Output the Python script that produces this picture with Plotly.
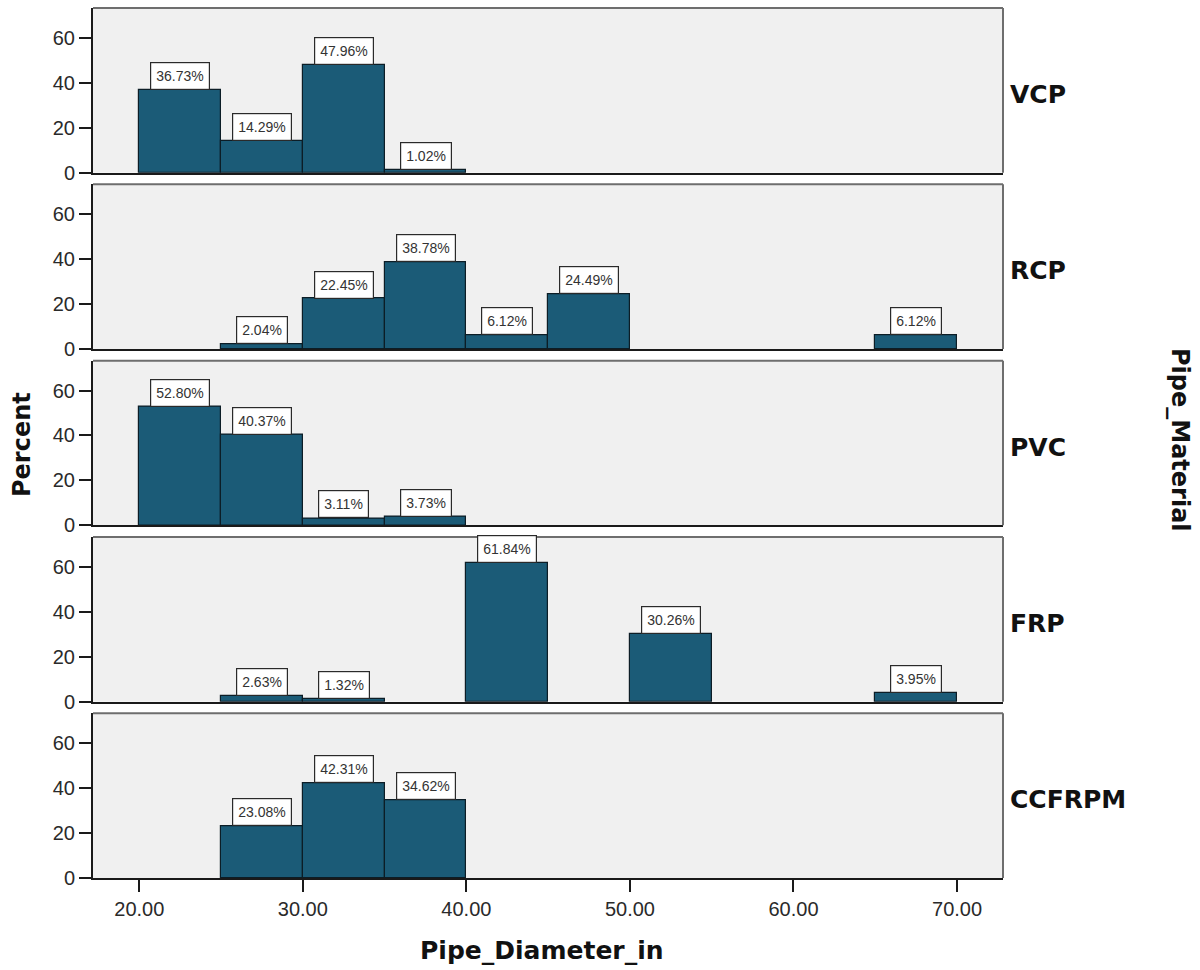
import plotly.graph_objects as go
from plotly.subplots import make_subplots

# Histogram bins (5-inch wide) per pipe material, percent of pipes in each bin
materials = ["VCP", "RCP", "PVC", "FRP", "CCFRPM"]
bin_width = 5.0

vcp_left = [20, 25, 30, 35]
vcp_pct = [36.73, 14.29, 47.96, 1.02]

rcp_left = [25, 30, 35, 40, 45, 65]
rcp_pct = [2.04, 22.45, 38.78, 6.12, 24.49, 6.12]

pvc_left = [20, 25, 30, 35]
pvc_pct = [52.80, 40.37, 3.11, 3.73]

frp_left = [25, 30, 40, 50, 65]
frp_pct = [2.63, 1.32, 61.84, 30.26, 3.95]

ccfrpm_left = [25, 30, 35]
ccfrpm_pct = [23.08, 42.31, 34.62]

series = [
    (vcp_left, vcp_pct),
    (rcp_left, rcp_pct),
    (pvc_left, pvc_pct),
    (frp_left, frp_pct),
    (ccfrpm_left, ccfrpm_pct),
]

x_ticks = [20, 30, 40, 50, 60, 70]
y_ticks = [0, 20, 40, 60]

BAR = "#1b5b77"
PANEL = "#f0f0f0"
AXIS = "#1a1a1a"
FRAME = "#6e6e6e"
TXT = "#2a2a2a"
TICK_FONT = dict(family="Arial, Liberation Sans", size=20, color=TXT)
TITLE_FONT = dict(family="DejaVu Sans", size=24, color="#111111")
ROW_FONT = dict(family="DejaVu Sans", size=25, color="#111111")

L, R, T, B = 93, 197, 8, 92
W, H = 1200, 970
gap_px = 11.6
plot_h = H - T - B
plot_w = W - L - R

fig = make_subplots(rows=5, cols=1, shared_xaxes=True,
                    vertical_spacing=gap_px / plot_h)

for i, (lefts, pcts) in enumerate(series, start=1):
    centers = [l + bin_width / 2 for l in lefts]
    fig.add_trace(go.Bar(
        x=centers, y=pcts, width=[bin_width] * len(centers),
        marker=dict(color=BAR, line=dict(color="#0c1d26", width=1.2)),
        hoverinfo="x+y", showlegend=False,
    ), row=i, col=1)
    for c, p in zip(centers, pcts):
        fig.add_annotation(
            x=c, y=p, text=f"{p:.2f}%", showarrow=False,
            yanchor="bottom", xanchor="center",
            font=dict(family="Arial, Liberation Sans", size=14, color="#333333"),
            bgcolor="white", bordercolor="#2a2a2a", borderwidth=1.2, borderpad=5,
            row=i, col=1,
        )

for i in range(1, 6):
    fig.update_yaxes(
        range=[0, 73.3], tickvals=y_ticks, ticks="outside", ticklen=12,
        tickwidth=2, tickcolor=AXIS, showgrid=False, zeroline=False,
        showline=True, mirror=False, linecolor=AXIS, linewidth=2,
        tickfont=TICK_FONT,
        row=i, col=1,
    )
    fig.update_xaxes(
        range=[17.17, 72.81], tickvals=x_ticks,
        ticktext=[f"{v:.2f}" for v in x_ticks],
        showgrid=False, zeroline=False, showline=True, mirror=False,
        linecolor=AXIS, linewidth=2,
        ticks="outside" if i == 5 else "", ticklen=12, tickwidth=2,
        tickcolor=AXIS,
        showticklabels=(i == 5),
        tickfont=TICK_FONT,
        row=i, col=1,
    )
    # Lighter frame on the top and right edges of each panel
    xr = "x domain" if i == 1 else f"x{i} domain"
    yr = "y domain" if i == 1 else f"y{i} domain"
    fig.add_shape(type="line", xref=xr, yref=yr, x0=0, x1=1, y0=1, y1=1,
                  line=dict(color=FRAME, width=2))
    fig.add_shape(type="line", xref=xr, yref=yr, x0=1, x1=1, y0=0, y1=1,
                  line=dict(color=FRAME, width=2))

# Row labels on the right of each panel
for i, name in enumerate(materials, start=1):
    yax = fig.layout["yaxis" if i == 1 else f"yaxis{i}"]
    d0, d1 = yax.domain
    fig.add_annotation(
        xref="paper", yref="paper", x=(1008 - L) / plot_w, y=(d0 + d1) / 2,
        yshift=-4,
        text=f"<b>{name}</b>", showarrow=False, xanchor="left", yanchor="middle",
        font=ROW_FONT,
    )

fig.add_annotation(
    xref="paper", yref="paper", x=(1180 - L) / plot_w, y=(H - B - 440) / plot_h,
    text="<b>Pipe_Material</b>", textangle=90, showarrow=False,
    xanchor="center", yanchor="middle", font=TITLE_FONT,
)
fig.add_annotation(
    xref="paper", yref="paper", x=(22 - L) / plot_w, y=(H - B - 445) / plot_h,
    text="<b>Percent</b>", textangle=-90, showarrow=False,
    xanchor="center", yanchor="middle", font=TITLE_FONT,
)
fig.add_annotation(
    xref="paper", yref="paper", x=(542 - L) / plot_w, y=(H - B - 951) / plot_h,
    text="<b>Pipe_Diameter_in</b>", showarrow=False,
    xanchor="center", yanchor="middle", font=ROW_FONT,
)

fig.update_layout(
    width=W, height=H, margin=dict(l=L, r=R, t=T, b=B),
    paper_bgcolor="white", plot_bgcolor=PANEL, bargap=0,
)

fig.write_html("out.html")
